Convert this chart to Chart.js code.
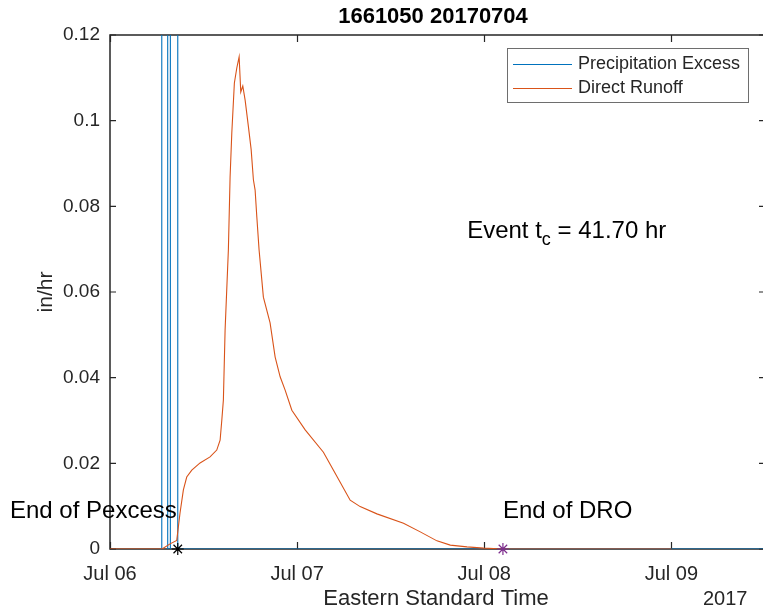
<!DOCTYPE html>
<html><head><meta charset="utf-8">
<script src="https://cdn.jsdelivr.net/npm/chart.js@4/dist/chart.umd.min.js"></script>
<style>
html,body{margin:0;padding:0;overflow:hidden;background:#fff;width:763px;height:613px}
#wrap{position:absolute;left:0;top:0;width:780px;height:613px}
</style>
</head><body><div id="wrap"><canvas id="c" width="780" height="613"></canvas></div>
<script>
// ---- data (hours after Jul 06 2017 00:00 EST) ----
const runoffHours = [0, 6.67, 7.70, 8.56, 8.98, 9.41, 9.84, 10.49, 11.55, 12.83, 13.69, 14.12, 14.34, 14.54, 14.76, 15.18, 15.40, 15.62, 15.95, 16.26, 16.56, 16.77, 17.03, 17.33, 17.75, 18.10, 18.39, 18.61, 18.83, 19.12, 19.67, 20.53, 21.18, 21.82, 22.46, 23.32, 25.03, 27.37, 28.66, 30.80, 32.08, 34.23, 37.64, 39.79, 41.93, 43.64, 45.78, 47.91, 50.44, 72.0];
const runoffValues = [0, 0, 0.0012, 0.0020, 0.0084, 0.0138, 0.0168, 0.0184, 0.0201, 0.0215, 0.0231, 0.0254, 0.0301, 0.0348, 0.0511, 0.0698, 0.0868, 0.0971, 0.1088, 0.1123, 0.1149, 0.1067, 0.1081, 0.1048, 0.0986, 0.0933, 0.0862, 0.0838, 0.0775, 0.0698, 0.0588, 0.0528, 0.0448, 0.0402, 0.0371, 0.0324, 0.0278, 0.0226, 0.0184, 0.0114, 0.0099, 0.0082, 0.0060, 0.0040, 0.0019, 0.0009, 0.0005, 0.0002, 0, 0];
const pexcessHours = [6.64, 6.64, 7.40, 7.40, 7.74, 7.74, 8.69, 8.69, 90];
const pexcessValues = [0, 0.5, 0.5, 0, 0, 0.5, 0.5, 0, 0];
const endPexcessHour = 8.69;
const endDroHour = 50.39;
const xTickHours = [0, 24, 48, 72];
const xTickLabels = ['Jul 06', 'Jul 07', 'Jul 08', 'Jul 09'];
const yTickValues = [0, 0.02, 0.04, 0.06, 0.08, 0.1, 0.12];
const seriesNames = ['Precipitation Excess', 'Direct Runoff'];
const titleText = '1661050 20170704';
const yearText = '2017';
const eventTc = '41.70';

const FONT = '"Liberation Sans", Arial, Helvetica, sans-serif';
const AX = '#262626';
const BLUE = '#0072BD';
const ORANGE = '#D95319';
const PURPLE = '#7E2F8E';

const toPts = (xs, ys) => xs.map((h, i) => ({x: h, y: ys[i]}));

const decor = {
  id: 'decor',
  beforeDatasetsDraw(chart) {
    const {ctx, chartArea: a, scales: {x, y}} = chart;
    ctx.save();
    ctx.strokeStyle = AX;
    ctx.lineWidth = 1.5;
    ctx.strokeRect(a.left, a.top, a.right - a.left, a.bottom - a.top);
    ctx.lineWidth = 1.2;
    ctx.beginPath();
    xTickHours.forEach(h => {
      const px = Math.round(x.getPixelForValue(h)) + 0.5;
      ctx.moveTo(px, a.bottom); ctx.lineTo(px, a.bottom - 7);
      ctx.moveTo(px, a.top); ctx.lineTo(px, a.top + 7);
    });
    yTickValues.forEach(v => {
      const py = y.getPixelForValue(v);
      ctx.moveTo(a.left, py); ctx.lineTo(a.left + 6, py);
      ctx.moveTo(a.right, py); ctx.lineTo(a.right - 6, py);
    });
    ctx.stroke();
    ctx.restore();
  },
  afterDraw(chart) {
    const {ctx, chartArea: a, scales: {x, y}} = chart;
    ctx.save();
    ctx.fillStyle = '#000';
    // title
    ctx.font = 'bold 22px ' + FONT;
    ctx.textAlign = 'center'; ctx.textBaseline = 'middle';
    ctx.fillText(titleText, 433, 17);
    // x label
    ctx.fillStyle = AX;
    ctx.font = '22px ' + FONT;
    ctx.fillText('Eastern Standard Time', 436, 599);
    // year
    ctx.font = '20px ' + FONT;
    ctx.textAlign = 'left';
    ctx.fillText(yearText, 703, 599);
    // y label
    ctx.save();
    ctx.translate(46, (a.top + a.bottom) / 2);
    ctx.rotate(-Math.PI / 2);
    ctx.textAlign = 'center';
    ctx.font = '21px ' + FONT;
    ctx.fillText('in/hr', 0, 0);
    ctx.restore();
    // annotations
    ctx.fillStyle = '#000';
    ctx.font = '24px ' + FONT;
    ctx.textBaseline = 'middle';
    ctx.textAlign = 'right';
    ctx.fillText('End of Pexcess', x.getPixelForValue(endPexcessHour) - 1, y.getPixelForValue(0.0089));
    ctx.textAlign = 'left';
    ctx.fillText('End of DRO', x.getPixelForValue(endDroHour), y.getPixelForValue(0.0089));
    // Event tc
    let ex = x.getPixelForValue(45.8), ey = y.getPixelForValue(0.0745);
    ctx.textBaseline = 'alphabetic';
    const base = ey + 8;
    ctx.fillText('Event t', ex, base);
    ex += ctx.measureText('Event t').width;
    ctx.font = '18px ' + FONT;
    ctx.fillText('c', ex, base + 7);
    ex += ctx.measureText('c').width;
    ctx.font = '24px ' + FONT;
    ctx.fillText(' = ' + eventTc + ' hr', ex, base);
    // legend
    const lx = 507, ly = 48, lw = 241, lh = 54;
    ctx.fillStyle = '#fff';
    ctx.fillRect(lx, ly, lw, lh);
    ctx.strokeStyle = '#6e6e6e';
    ctx.lineWidth = 1;
    ctx.strokeRect(lx + 0.5, ly + 0.5, lw, lh);
    const rows = [[seriesNames[0], BLUE, 64], [seriesNames[1], ORANGE, 88]];
    ctx.font = '18px ' + FONT;
    ctx.textAlign = 'left'; ctx.textBaseline = 'middle';
    rows.forEach(([t, c, ry]) => {
      ctx.strokeStyle = c; ctx.lineWidth = 1;
      ctx.beginPath(); ctx.moveTo(513, ry + 0.5); ctx.lineTo(572, ry + 0.5); ctx.stroke();
      ctx.fillStyle = AX;
      ctx.fillText(t, 578, ry);
    });
    ctx.restore();
  }
};

new Chart(document.getElementById('c'), {
  type: 'scatter',
  data: {
    datasets: [
      {label: 'endPexcess', data: [{x: endPexcessHour, y: 0}], pointStyle: 'star', pointRadius: 6, borderColor: '#000', borderWidth: 1.2, backgroundColor: '#000', clip: false},
      {label: 'endDRO', data: [{x: endDroHour, y: 0}], pointStyle: 'star', pointRadius: 6, borderColor: PURPLE, borderWidth: 1.2, backgroundColor: PURPLE, clip: false},
      {label: seriesNames[1], data: toPts(runoffHours, runoffValues), showLine: true, borderColor: ORANGE, borderWidth: 1.1, pointRadius: 0, tension: 0},
      {label: seriesNames[0], data: toPts(pexcessHours, pexcessValues), showLine: true, borderColor: BLUE, borderWidth: 1.1, pointRadius: 0, tension: 0}
    ]
  },
  options: {
    responsive: false,
    animation: false,
    devicePixelRatio: 1,
    layout: {padding: {left: 0, top: 35, right: 15, bottom: 0}},
    plugins: {legend: {display: false}, tooltip: {enabled: false}, title: {display: false}},
    scales: {
      x: {
        type: 'linear', min: 0, max: 84,
        afterBuildTicks: s => { s.ticks = xTickHours.map(v => ({value: v})); },
        afterFit: s => { s.height = 64; },
        grid: {display: false, drawTicks: false}, border: {display: false},
        ticks: {padding: 13, color: AX, font: {family: FONT, size: 20}, maxRotation: 0,
          callback: v => { const i = xTickHours.indexOf(v); return i >= 0 ? xTickLabels[i] : ''; }}
      },
      y: {
        type: 'linear', min: 0, max: 0.12,
        afterBuildTicks: s => { s.ticks = yTickValues.map(v => ({value: v})); },
        afterFit: s => { s.width = 110; },
        grid: {display: false, drawTicks: false}, border: {display: false},
        ticks: {padding: 10, color: AX, font: {family: FONT, size: 19},
          callback: v => String(+Number(v).toFixed(2))}
      }
    }
  },
  plugins: [decor]
});
</script></body></html>
